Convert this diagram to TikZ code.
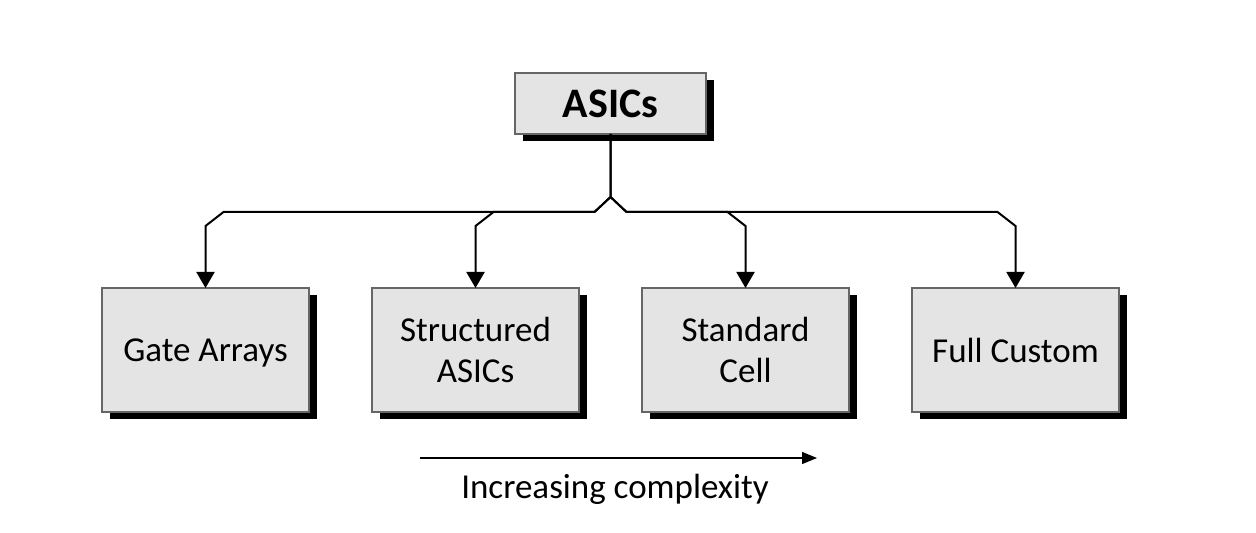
\documentclass[tikz,border=0pt]{standalone}
\usepackage{fontspec}
\setmainfont{Carlito}
\usepackage{tikz}
\usetikzlibrary{arrows.meta,positioning,calc,shadows}
\definecolor{boxgray}{HTML}{E4E4E4}
\tikzset{
  asbox/.style={draw=black!60, line width=0.6pt, fill=boxgray, align=center, inner sep=0pt, outer sep=0pt, minimum width=103.5pt, minimum height=62pt, font=\fontsize{17.5pt}{20.5pt}\selectfont, drop shadow={shadow xshift=4pt, shadow yshift=-3.75pt, fill=black, opacity=1}},
  astop/.style={asbox, minimum width=95.5pt, minimum height=30.5pt, font=\fontsize{21pt}{25pt}\selectfont\bfseries},
  asline/.style={-{Triangle[length=8pt,width=9pt]}, line width=1pt},
  asthin/.style={-{Triangle[length=7.5pt,width=6pt]}, line width=0.6pt}
}

\begin{document}
\begin{tikzpicture}[x=0.5pt, y=0.5pt]
  \useasboundingbox (0,0) rectangle (1256,-533);
  \node[astop] (asics) at (610.5,-103.5) {ASICs};
  \node[asbox, text depth=0pt] (gate) at (205.5,-350) {Gate Arrays};
  \node[asbox, right=31.5pt of gate] (struct) {Structured\\ASICs};
  \node[asbox, right=31.5pt of struct] (std) {Standard\\Cell};
  \node[asbox, right=31.5pt of std] (full) {Full Custom};
  \coordinate (fork) at ($(asics.south)+(0,-63)$);
  \coordinate (bar) at ($(fork)+(0,-15)$);
  \draw[asline] (asics.south) -- (fork) -- ++(-16,-15) -- ($(gate.north |- bar)+(18,0)$) -- ++(-18,-14) -- (gate.north);
  \draw[asline] (fork) -- ++(-16,-15) -- ($(struct.north |- bar)+(18,0)$) -- ++(-18,-14) -- (struct.north);
  \draw[asline] (asics.south) -- (fork) -- ++(16,-15) -- ($(std.north |- bar)+(-18,0)$) -- ++(18,-14) -- (std.north);
  \draw[asline] (fork) -- ++(16,-15) -- ($(full.north |- bar)+(-18,0)$) -- ++(18,-14) -- (full.north);
  \node[font=\fontsize{17.5pt}{21pt}\selectfont] (incr) at (615,-489) {Increasing complexity};
  \coordinate (cfrom) at (420,-458);
  \coordinate (cto) at (817,-458);
  \draw[asthin] (cfrom) -- (cto);
\end{tikzpicture}
\end{document}
